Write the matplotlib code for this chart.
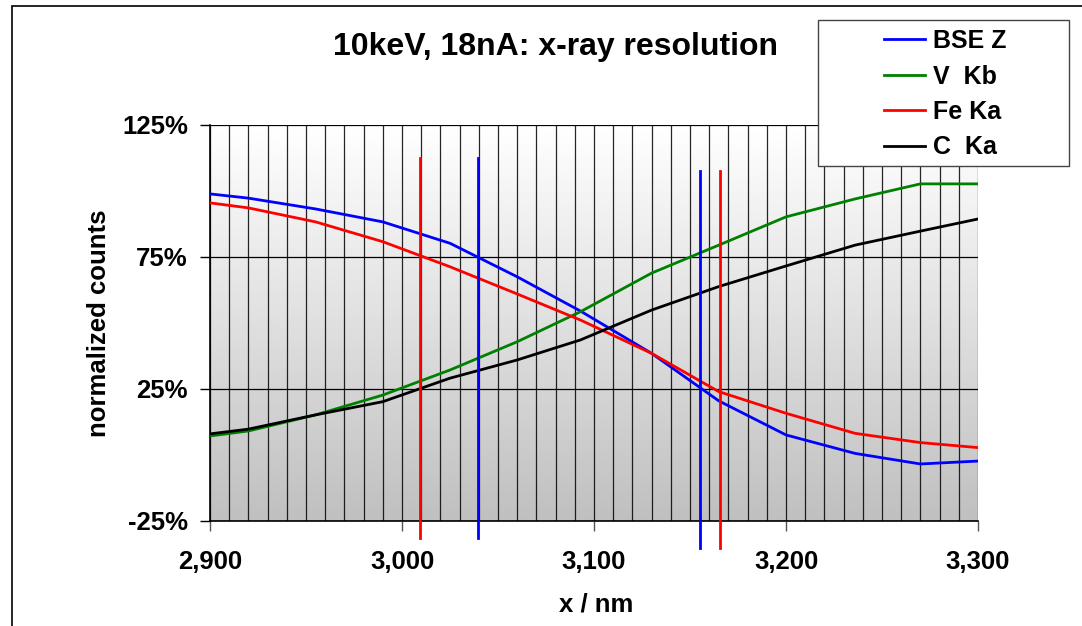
import numpy as np
import matplotlib
matplotlib.use("Agg")
import matplotlib.pyplot as plt
from matplotlib.ticker import FuncFormatter, MultipleLocator, FixedLocator
from matplotlib.patches import Rectangle

plt.rcParams["font.family"] = ["Liberation Sans", "DejaVu Sans"]
plt.rcParams["font.weight"] = "bold"
plt.rcParams["axes.unicode_minus"] = False

# x positions of the scan points (nm)
x_nm = [2900, 2920, 2955, 2990, 3025, 3060, 3093, 3130, 3165, 3200, 3236, 3270, 3300]

bse_z = [98.9, 97.3, 93.2, 88.3, 80.2, 67.5, 54.5, 38.5, 20.5, 7.6, 0.6, -3.4, -2.3]
v_kb = [7.2, 9.1, 15.2, 22.7, 32.2, 42.9, 54.3, 68.9, 79.5, 90.2, 97.0, 102.7, 102.7]
fe_ka = [95.5, 93.6, 88.3, 80.8, 71.3, 61.0, 51.1, 38.5, 24.0, 15.8, 8.2, 4.7, 2.8]
c_ka = [8.0, 9.8, 15.2, 20.2, 29.1, 36.0, 43.6, 54.9, 63.8, 71.6, 79.5, 84.8, 89.4]

series_names = ["BSE Z", "V  Kb", "Fe Ka", "C  Ka"]
series_colors = ["#0000ff", "#008000", "#ff0000", "#000000"]

y_ticks = [-25, 25, 75, 125]

# resolution markers
marker_x = [3009.4, 3039.6, 3155.2, 3165.6]
marker_lo = [-31.4, -31.4, -35.2, -35.2]
marker_hi = [112.5, 112.5, 107.6, 107.6]
marker_colors = ["#ff0000", "#0000ff", "#0000ff", "#ff0000"]

W, H = 1082, 626
fig = plt.figure(figsize=(W / 100, H / 100), dpi=100)

# outer chart border
fig.patches.append(Rectangle((12 / W, -0.1), 1.2, 1 - 6 / H + 0.1,
                             transform=fig.transFigure, fill=False,
                             edgecolor="black", linewidth=1.2))

ax = fig.add_axes([210 / W, 1 - 521 / H, (978 - 210) / W, (521 - 125) / H])

# gradient background
grad = np.linspace(1.0, 0.75, 256).reshape(-1, 1)
ax.imshow(grad, cmap="gray", vmin=0, vmax=1, aspect="auto",
          extent=[2900, 3300, -25, 125], zorder=0)

ax.set_xlim(2900, 3300)
ax.set_ylim(-25, 125)

ax.xaxis.set_major_locator(MultipleLocator(100))
ax.xaxis.set_minor_locator(MultipleLocator(10))
ax.yaxis.set_major_locator(FixedLocator(y_ticks))
ax.grid(which="both", axis="x", color="black", linewidth=0.9, alpha=0.85, zorder=1)
ax.grid(which="major", axis="y", color="black", linewidth=0.9, zorder=1)
ax.set_axisbelow(True)

for name, vals, col in zip(series_names, [bse_z, v_kb, fe_ka, c_ka], series_colors):
    ax.plot(x_nm, vals, color=col, linewidth=2.0, label=name, zorder=3)

for mx, lo, hi, col in zip(marker_x, marker_lo, marker_hi, marker_colors):
    ax.plot([mx, mx], [lo, hi], color=col, linewidth=2.0, clip_on=False, zorder=4)

ax.xaxis.set_major_formatter(FuncFormatter(lambda v, p: f"{v:,.0f}"))
ax.yaxis.set_major_formatter(FuncFormatter(lambda v, p: f"{v:.0f}%"))
ax.tick_params(axis="both", which="major", labelsize=18.5, length=7, width=1)
ax.tick_params(axis="y", which="major", pad=9)
ax.tick_params(axis="x", which="major", color="#555555", pad=14)
ax.tick_params(axis="x", which="minor", length=0)

for side in ["top", "right"]:
    ax.spines[side].set_visible(False)
for side in ["left", "bottom"]:
    ax.spines[side].set_linewidth(1.2)

fig.text(596 / W, 1 - 605 / H, "x / nm", fontsize=18.5, fontweight="bold",
         ha="center", va="center")
fig.text(99 / W, 1 - 323 / H, "normalized counts", fontsize=18.5,
         fontweight="bold", ha="center", va="center", rotation=90)

fig.text(555 / W, 1 - 47 / H, "10keV, 18nA: x-ray resolution", fontsize=23,
         fontweight="bold", ha="center", va="center")

# legend box
fig.patches.append(Rectangle((818 / W, 1 - 166 / H), (1069 - 818) / W, (166 - 20) / H,
                             transform=fig.transFigure, facecolor="white",
                             edgecolor="#444444", linewidth=1.0, zorder=5))
leg = fig.legend(loc="upper left", bbox_to_anchor=(884 / W, 1 - 29 / H),
                 fontsize=18, frameon=False, handlelength=1.65,
                 handletextpad=0.3, labelspacing=0.46, borderpad=0,
                 borderaxespad=0)
leg.set_zorder(6)
for t in leg.get_texts():
    t.set_fontweight("bold")

fig.savefig("out.png", dpi=100)
